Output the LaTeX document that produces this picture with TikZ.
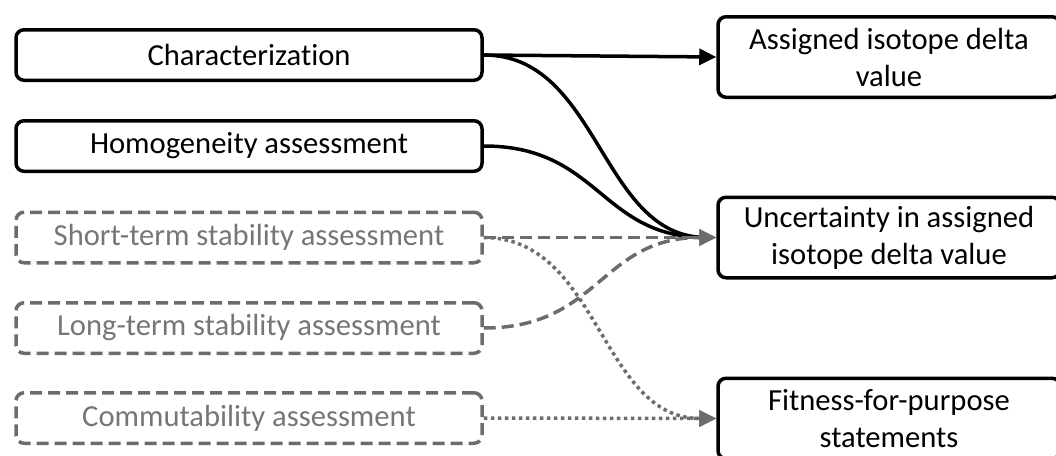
\documentclass[tikz,border=0pt]{standalone}
\usepackage{fontspec}
\setmainfont{Carlito}[Ligatures=NoCommon]
\usetikzlibrary{arrows.meta}
\definecolor{lgray}{RGB}{108,108,108}
\definecolor{tgray}{RGB}{118,118,118}
\begin{document}
\begin{tikzpicture}[x=1pt,y=-1pt,
  every node/.style={font=\fontsize{30.6}{37}\selectfont, inner sep=0pt, align=center},
  solidbox/.style={draw=black, line width=3.5pt, rounded corners=8pt, text=black},
  grayboxstyle/.style={draw=lgray, line width=3.5pt, rounded corners=8pt, text=tgray, dash pattern=on 12pt off 6pt},
  leftbox/.style={minimum width=466pt, minimum height=50.5pt},
  rightbox/.style={minimum width=342pt, minimum height=80.5pt},
  blackarrow/.style={draw=black, line width=3.5pt, -{Triangle[length=17pt,width=16pt]}},
  blackline/.style={draw=black, line width=3.5pt},
  dashedarrow/.style={draw=lgray, line width=3.5pt, dash pattern=on 12pt off 6pt, -{Triangle[length=17pt,width=16pt]}},
  dottedarrow/.style={draw=lgray, line width=3.5pt, dash pattern=on 3.5pt off 3.5pt, -{Triangle[length=17pt,width=16pt]}}
]
\useasboundingbox (0,0) rectangle (1056,455);
\clip (0,0) rectangle (1056,455);

\node[solidbox,leftbox] (char) at (249,55) {Characterization};
\node[solidbox,leftbox] (homo) at (249,146) {Homogeneity assessment};
\node[grayboxstyle,leftbox] (short) at (249,237.5) {Short-term stability assessment};
\node[grayboxstyle,leftbox] (long) at (249,328) {Long-term stability assessment};
\node[grayboxstyle,leftbox] (comm) at (249,418) {Commutability assessment};

\node[solidbox,rightbox] (assig) at (889,57) {Assigned isotope delta\\value};
\node[solidbox,rightbox] (unc) at (889,237.5) {Uncertainty in assigned\\isotope delta value};
\node[solidbox,rightbox] (fit) at (889,418.5) {Fitness-for-purpose\\statements};

\draw[blackarrow] (char.east) -- (assig.west);
\draw[blackline] (char.east) .. controls ([xshift=116pt]char.east) and ([xshift=-116pt]unc.west) .. ([xshift=-10pt]unc.west);
\draw[blackline] (homo.east) .. controls ([xshift=116pt]homo.east) and ([xshift=-116pt]unc.west) .. ([xshift=-10pt]unc.west);

\draw[dottedarrow] (short.east) .. controls ([xshift=116pt]short.east) and ([xshift=-116pt]fit.west) .. (fit.west);
\draw[dottedarrow] (comm.east) -- (fit.west);
\draw[dashedarrow] (long.east) .. controls ([xshift=116pt]long.east) and ([xshift=-116pt]unc.west) .. (unc.west);
\draw[dashedarrow] (short.east) -- (unc.west);
\end{tikzpicture}
\end{document}
